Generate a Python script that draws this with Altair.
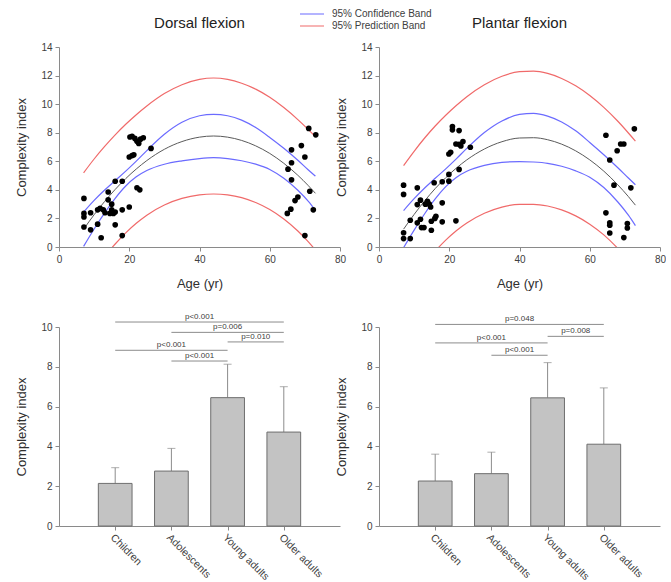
import json
import altair as alt
import pandas as pd

FONT = "Liberation Sans"
BLUE = "#6b6bff"
RED = "#f06a6a"
AXIS_GRAY = "#8a8a8a"
TEXT_GRAY = "#404040"

# ---------------- scatter data (age in years, complexity index) ----------------
dorsal_age = [7.1, 7.1, 7.1, 7.1, 9, 9, 11, 11, 11.7, 12, 12.6, 13.1, 14, 14, 14.5,
              15, 15, 15.5, 16, 16, 16, 18, 18, 18, 20, 20, 20.2, 20.8, 21.3, 20.8,
              21.6, 22.2, 22.7, 23.2, 24, 22.2, 23, 26.2,
              65.2, 65, 66, 66.2, 66.2, 66.2, 67.2, 68, 69, 70, 70, 71.1, 71.4, 72.4, 73.1]
dorsal_ci = [3.4, 2.35, 2.1, 1.4, 2.4, 1.2, 2.6, 1.6, 2.7, 0.65, 2.6, 2.4, 3.85, 3.3, 2.35,
             3.0, 2.6, 2.35, 4.6, 1.55, 2.45, 4.6, 0.8, 2.6, 2.8, 6.3, 7.7, 6.4, 6.45, 7.75,
             7.6, 7.4, 7.25, 7.55, 7.65, 4.15, 4.0, 6.9,
             5.45, 2.35, 2.65, 6.8, 5.9, 4.7, 3.25, 3.5, 7.1, 6.3, 0.8, 8.3, 3.9, 2.6, 7.85]

plantar_age = [7.0, 7.0, 7.0, 7.0, 8.9, 8.9, 10.9, 10.9, 10.9, 11.8, 11.8, 12.1, 12.8, 13.2,
               13.8, 14.3, 14.7, 14.9, 14.9, 15.7, 15.9, 16.2, 18, 18, 18, 19.9, 19.9, 19.9,
               20.4, 20.9, 20.9, 21.9, 21.9, 22.8, 22.8, 22.8, 23.3, 23.9, 26,
               64.6, 64.6, 65.7, 65.7, 65.7, 65.7, 66.9, 67.8, 68.8, 69.7, 69.7, 70.7, 70.7,
               71.7, 72.7]
plantar_ci = [4.33, 3.68, 1.0, 0.59, 1.87, 0.59, 4.14, 2.97, 1.69, 3.28, 1.94, 1.36, 1.36, 3.0,
              3.2, 3.0, 2.8, 1.17, 1.8, 4.5, 2.0, 2.15, 4.57, 3.09, 1.76, 5.08, 4.61, 6.51,
              6.63, 8.43, 8.2, 1.83, 7.21, 7.19, 8.15, 5.43, 7.07, 7.38, 6.98,
              7.82, 2.39, 6.09, 1.69, 1.52, 0.98, 4.33, 6.74, 7.21, 7.21, 0.66, 1.64, 1.33,
              4.14, 8.27]

# ---------------- fitted curve and band half-widths ----------------
curve_age = [7, 10, 13, 16, 19, 22, 25, 30, 35, 40, 44, 48, 52, 56, 60, 64, 68, 71, 73]
dorsal_fit = [1.24, 2.26, 3.19, 4.03, 4.79, 5.46, 6.05, 6.84, 7.38, 7.69, 7.77, 7.69, 7.46,
              7.08, 6.55, 5.86, 5.02, 4.29, 3.76]
dorsal_conf = [1.2, 1.0, 0.8, 0.62, 0.52, 0.55, 0.7, 1.05, 1.35, 1.5, 1.52, 1.5, 1.42, 1.28,
               1.12, 1.05, 1.05, 1.1, 1.2]
dorsal_pred = [3.95, 3.9, 3.85, 3.82, 3.8, 3.8, 3.82, 3.9, 3.98, 4.04, 4.06, 4.04, 4.0, 3.97,
               3.93, 3.9, 3.9, 3.93, 3.97]
plantar_fit = [1.25, 2.28, 3.23, 4.09, 4.85, 5.52, 6.10, 6.86, 7.37, 7.63, 7.65, 7.51, 7.20,
               6.73, 6.10, 5.31, 4.35, 3.53, 2.93]
plantar_conf = [1.3, 1.1, 0.9, 0.72, 0.62, 0.65, 0.8, 1.15, 1.45, 1.65, 1.7, 1.65, 1.55, 1.4,
                1.22, 1.15, 1.2, 1.3, 1.43]
plantar_pred = [4.45, 4.42, 4.4, 4.38, 4.37, 4.38, 4.42, 4.5, 4.58, 4.64, 4.66, 4.64, 4.6,
                4.55, 4.5, 4.46, 4.45, 4.45, 4.48]

band_names = ["95% Confidence Band", "95% Prediction Band"]

# ---------------- bar data ----------------
groups = ["Children", "Adolescents", "Young adults", "Older adults"]
dorsal_mean = [2.14, 2.76, 6.45, 4.72]
dorsal_sd = [0.79, 1.14, 1.68, 2.28]
plantar_mean = [2.26, 2.63, 6.44, 4.11]
plantar_sd = [1.35, 1.08, 1.77, 2.83]

dorsal_brk_from = ["Children", "Adolescents", "Young adults", "Children", "Adolescents"]
dorsal_brk_to = ["Older adults", "Older adults", "Older adults", "Young adults", "Young adults"]
dorsal_brk_y = [10.25, 9.73, 9.25, 8.83, 8.29]
dorsal_brk_label = ["p<0.001", "p=0.006", "p=0.010", "p<0.001", "p<0.001"]

plantar_brk_from = ["Children", "Young adults", "Children", "Adolescents"]
plantar_brk_to = ["Older adults", "Older adults", "Young adults", "Young adults"]
plantar_brk_y = [10.13, 9.53, 9.2, 8.58]
plantar_brk_label = ["p=0.048", "p=0.008", "p<0.001", "p<0.001"]

PANEL_W = 281
PANEL_H = 200


def axis_common(**kw):
    base = dict(
        grid=False, domainColor=AXIS_GRAY, tickColor=AXIS_GRAY, tickSize=4,
        labelColor=TEXT_GRAY, labelFont=FONT, labelFontSize=10, labelPadding=3,
        labelFlush=False, labelOverlap=False, tickCount=30, format="d", titleFont=FONT,
        titleFontSize=13, titleFontWeight="normal", titleColor="#303030",
    )
    base.update(kw)
    return alt.Axis(**base)


def curve_table(fit, conf, pred):
    rows = []
    for a, f, c, p in zip(curve_age, fit, conf, pred):
        rows.append(dict(age=a, value=f, band="fit", side="fit"))
        rows.append(dict(age=a, value=f + c, band=band_names[0], side="upper"))
        rows.append(dict(age=a, value=f - c, band=band_names[0], side="lower"))
        rows.append(dict(age=a, value=f + p, band=band_names[1], side="upper"))
        rows.append(dict(age=a, value=f - p, band=band_names[1], side="lower"))
    return pd.DataFrame(rows)


def scatter_panel(title, ages, vals, fit, conf, pred, with_legend, with_anchor):
    pts = pd.DataFrame({"age": ages, "value": vals})
    curves = curve_table(fit, conf, pred)
    xs = alt.Scale(domain=[0, 80], nice=False)
    ys = alt.Scale(domain=[0, 14], nice=False)
    xax = axis_common(values=[0, 20, 40, 60, 80], title="Age (yr)", titlePadding=13)
    yax = axis_common(values=list(range(0, 15, 2)), title="Complexity index", titlePadding=12)

    fit_line = alt.Chart(curves).transform_filter("datum.band == 'fit'").mark_line(
        color="#5a5a5a", strokeWidth=1, interpolate="monotone", clip=True
    ).encode(
        x=alt.X("age:Q", scale=xs, axis=xax),
        y=alt.Y("value:Q", scale=ys, axis=yax),
    )
    if with_legend:
        legend = alt.Legend(
            orient="none", legendX=240, legendY=-39, title=None, symbolType="stroke",
            symbolSize=576, symbolStrokeWidth=1.2, labelFont=FONT, labelFontSize=10,
            labelColor=TEXT_GRAY, labelOffset=7, rowPadding=0, clipHeight=12, padding=0,
        )
    else:
        legend = None
    band_lines = alt.Chart(curves).transform_filter("datum.band != 'fit'").mark_line(
        strokeWidth=1.2, interpolate="monotone", clip=True
    ).encode(
        x="age:Q",
        y="value:Q",
        color=alt.Color("band:N", scale=alt.Scale(domain=band_names, range=[BLUE, RED]),
                        legend=legend),
        detail="side:N",
    )
    points = alt.Chart(pts).mark_circle(size=32, color="black", opacity=1).encode(
        x="age:Q", y="value:Q"
    )
    title_mark = alt.Chart(pd.DataFrame({"t": [title]})).mark_text(
        font=FONT, fontSize=15, color="#222222", align="center", baseline="middle"
    ).encode(text="t:N", x=alt.value(PANEL_W / 2), y=alt.value(-24))
    layers = [fit_line, band_lines, points, title_mark]
    if with_anchor:
        anchor = alt.Chart(pd.DataFrame({"t": [0]})).mark_rule(strokeOpacity=0).encode(
            x=alt.value(-58.5), x2=alt.value(-57.5), y=alt.value(-46.5)
        )
        layers.append(anchor)
    return alt.layer(*layers).properties(width=PANEL_W, height=PANEL_H)


def bar_panel(means, sds, bfrom, bto, by, blab):
    pos = {g: i + 1 for i, g in enumerate(groups)}
    df = pd.DataFrame({"group": groups, "mean": means, "sd": sds})
    df["pos"] = [pos[g] for g in groups]
    df["top"] = df["mean"] + df["sd"]
    df["lo"] = df["pos"] - 0.3
    df["hi"] = df["pos"] + 0.3
    df["zero"] = 0.0
    br = pd.DataFrame({"a": [pos[g] for g in bfrom], "b": [pos[g] for g in bto],
                       "y": by, "label": blab})
    br["mid"] = (br["a"] + br["b"]) / 2

    xs = alt.Scale(domain=[0, 5], nice=False)
    ys = alt.Scale(domain=[0, 10], nice=False)
    label_expr = json.dumps([""] + groups) + "[datum.value]"
    xax = axis_common(values=[1, 2, 3, 4], labelExpr=label_expr, labelAngle=45,
                      labelAlign="left", labelBaseline="top", labelFontSize=10.5,
                      labelPadding=2, title=None)
    yax = axis_common(values=list(range(0, 11, 2)), title="Complexity index", titlePadding=12)

    bars = alt.Chart(df).mark_bar(fill="#c3c3c3", stroke="#6e6e6e", strokeWidth=1).encode(
        x=alt.X("lo:Q", scale=xs, axis=xax), x2="hi:Q",
        y=alt.Y("mean:Q", scale=ys, axis=yax), y2="zero:Q",
    )
    err = alt.Chart(df).mark_rule(color="#8c8c8c", strokeWidth=1).encode(
        x="pos:Q", y="mean:Q", y2="top:Q"
    )
    caps = alt.Chart(df).mark_tick(color="#8c8c8c", size=8, thickness=1,
                                   orient="horizontal").encode(x="pos:Q", y="top:Q")
    lines = alt.Chart(br).mark_rule(color="#8c8c8c", strokeWidth=1).encode(
        x="a:Q", x2="b:Q", y="y:Q"
    )
    labels = alt.Chart(br).mark_text(font=FONT, fontSize=8, color=TEXT_GRAY,
                                     baseline="alphabetic", dy=-3).encode(
        x="mid:Q", y="y:Q", text="label:N"
    )
    return alt.layer(err, caps, bars, lines, labels).properties(width=PANEL_W, height=199)


top_left = scatter_panel("Dorsal flexion", dorsal_age, dorsal_ci, dorsal_fit, dorsal_conf,
                         dorsal_pred, True, True)
top_right = scatter_panel("Plantar flexion", plantar_age, plantar_ci, plantar_fit,
                          plantar_conf, plantar_pred, False, False)
bottom_left = bar_panel(dorsal_mean, dorsal_sd, dorsal_brk_from, dorsal_brk_to,
                        dorsal_brk_y, dorsal_brk_label)
bottom_right = bar_panel(plantar_mean, plantar_sd, plantar_brk_from, plantar_brk_to,
                         plantar_brk_y, plantar_brk_label)

chart = alt.concat(
    top_left, top_right, bottom_left, bottom_right,
    columns=2, spacing={"row": 80, "column": 39}, bounds="flush",
).resolve_scale(color="independent").resolve_legend(color="independent").properties(
    padding=0, background="white"
).configure_view(stroke=None)

chart.save("out.html", embed_options={"renderer": "svg", "actions": False})
